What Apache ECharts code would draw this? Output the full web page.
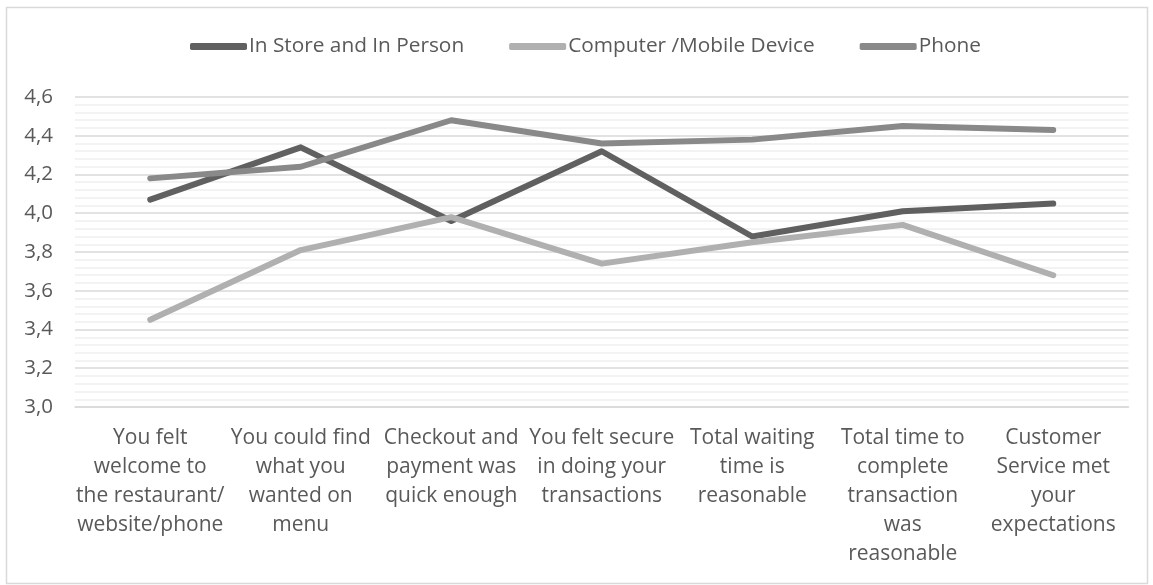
<!DOCTYPE html>
<html>
<head>
<meta charset="utf-8">
<script src="https://cdn.jsdelivr.net/npm/echarts@6/dist/echarts.min.js"></script>
<style>html,body{margin:0;padding:0;background:#fff}#c{width:1153px;height:585px}</style>
</head>
<body>
<div id="c"></div>
<script>
const categories = [
  "You felt\nwelcome to\nthe restaurant/\nwebsite/phone",
  "You could find\nwhat you\nwanted on\nmenu",
  "Checkout and\npayment was\nquick enough",
  "You felt secure\nin doing your\ntransactions",
  "Total waiting\ntime is\nreasonable",
  "Total time to\ncomplete\ntransaction\nwas\nreasonable",
  "Customer\nService met\nyour\nexpectations"
];
const seriesNames = ["In Store and In Person", "Computer /Mobile Device", "Phone"];
const inStore = [4.07, 4.34, 3.96, 4.32, 3.88, 4.01, 4.05];
const computer = [3.45, 3.81, 3.98, 3.74, 3.85, 3.94, 3.68];
const phone = [4.18, 4.24, 4.48, 4.36, 4.38, 4.45, 4.43];
const yTicks = { min: 3.0, max: 4.6, step: 0.2 };

const colors = ["#606060", "#b0b0b0", "#898989"];
const FONT = "Open Sans";
const chart = echarts.init(document.getElementById('c'), null, { renderer: 'canvas' });
const mk = (name, data, color) => ({
  name, type: 'line', data, symbol: 'none', smooth: false,
  lineStyle: { color, width: 6, cap: 'round', join: 'round' },
  itemStyle: { color },
  emphasis: { disabled: true }
});
chart.setOption({
  animation: false,
  color: colors,
  textStyle: { fontFamily: FONT },
  graphic: [{
    type: 'rect', shape: { x: 6.5, y: 7.5, width: 1141, height: 576 },
    style: { fill: 'none', stroke: '#d9d9d9', lineWidth: 1.5 }, z: -1
  }],
  legend: {
    top: 31, left: 185,
    itemWidth: 57, itemHeight: 7, itemGap: 45,
    icon: 'roundRect',
    textStyle: { fontFamily: FONT, fontSize: 20.8, color: '#595959', padding: [0, 0, 0, -3] },
    data: seriesNames
  },
  grid: { left: 75, right: 24.5, top: 97, bottom: 178, containLabel: false },
  xAxis: {
    type: 'category', data: categories, boundaryGap: true,
    axisLine: { lineStyle: { color: '#d9d9d9', width: 1.5 } },
    axisTick: { show: false },
    axisLabel: { interval: 0, color: '#595959', fontFamily: FONT, fontSize: 21, lineHeight: 29, margin: 17, align: 'center' }
  },
  yAxis: {
    type: 'value', min: yTicks.min, max: yTicks.max, interval: yTicks.step,
    axisLine: { show: false }, axisTick: { show: false },
    axisLabel: { color: '#595959', fontFamily: FONT, fontSize: 20.5, margin: 22,
      formatter: v => v.toFixed(1).replace('.', ',') },
    splitLine: { lineStyle: { color: '#d9d9d9', width: 1.5 } },
    minorTick: { show: false, splitNumber: 5 },
    minorSplitLine: { show: true, lineStyle: { color: '#efefef', width: 1.5 } }
  },
  series: [mk(seriesNames[0], inStore, colors[0]), mk(seriesNames[1], computer, colors[1]), mk(seriesNames[2], phone, colors[2])]
});
</script>
</body>
</html>
